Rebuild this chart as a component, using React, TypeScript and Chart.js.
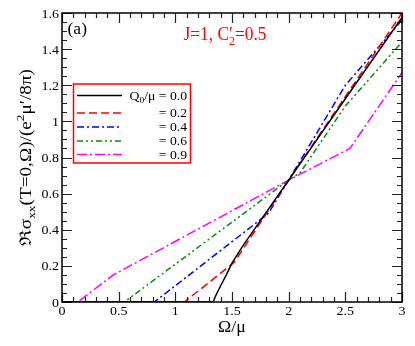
import React, { useEffect, useRef } from "react";
import { Chart, registerables } from "chart.js";

Chart.register(...registerables);

// ---------- data ----------
const blackX = [0, 1.333, 1.36, 1.4, 1.45, 1.5, 1.6, 1.8, 2.0, 2.5, 3.0];
const blackY = [0, 0, 0.04, 0.09, 0.15, 0.215, 0.315, 0.495, 0.675, 1.125, 1.575];
const redX = [0, 1.08, 1.52, 2.0, 3.0];
const redY = [0, 0, 0.22, 0.675, 1.6];
const blueX = [0, 0.815, 1.82, 2.0, 2.5, 3.0];
const blueY = [0, 0, 0.49, 0.675, 1.2, 1.56];
const greenX = [0, 0.55, 2.0, 2.1, 2.5, 3.0];
const greenY = [0, 0, 0.675, 0.715, 1.085, 1.44];
const magentaX = [0, 0.14, 0.45, 2.0, 2.54, 3.0];
const magentaY = [0, 0, 0.149, 0.675, 0.85, 1.27];

const legendValues = ["0.0", "0.2", "0.4", "0.6", "0.9"];
const xTicks = [0, 0.5, 1, 1.5, 2, 2.5, 3];
const xTickLabels = ["0", "0.5", "1", "1.5", "2", "2.5", "3"];
const yTicks = [0, 0.2, 0.4, 0.6, 0.8, 1.0, 1.2, 1.4, 1.6];
const yTickLabels = ["0", "0.2", "0.4", "0.6", "0.8", "1", "1.2", "1.4", "1.6"];
const xMinorStep = 0.1;
const yMinorStep = 0.05;

const FAM = "'Liberation Serif', 'Times New Roman', serif";

type Seg = { t: string; k?: "sub" | "sup"; stack?: boolean };

function segFont(size: number, seg: Seg) {
  const s = seg.k ? size * 0.7 : size;
  return `${s}px ${FAM}`;
}

function richWidth(ctx: CanvasRenderingContext2D, segs: Seg[], size: number) {
  let w = 0;
  for (const s of segs) {
    ctx.font = segFont(size, s);
    if (!s.stack) w += ctx.measureText(s.t).width;
  }
  return w;
}

function drawRich(
  ctx: CanvasRenderingContext2D,
  segs: Seg[],
  x: number,
  y: number,
  size: number,
  align: "left" | "center" | "right",
  sx: number,
  color: string
) {
  ctx.save();
  const total = richWidth(ctx, segs, size) * sx;
  const start = align === "left" ? 0 : align === "center" ? -total / 2 : -total;
  ctx.translate(x + start, y);
  ctx.scale(sx, 1);
  ctx.fillStyle = color;
  ctx.textAlign = "left";
  ctx.textBaseline = "alphabetic";
  let cx = 0;
  for (const s of segs) {
    ctx.font = segFont(size, s);
    const dy = s.k === "sub" ? size * 0.28 : s.k === "sup" ? -size * 0.42 : 0;
    ctx.fillText(s.t, cx, dy);
    if (!s.stack) cx += ctx.measureText(s.t).width;
  }
  ctx.restore();
}

const pts = (xs: number[], ys: number[]) => xs.map((x, i) => ({ x, y: ys[i] }));

const seriesStyles = [
  { color: "#000000", dash: [] as number[] },
  { color: "#ff0000", dash: [8, 4] },
  { color: "#0000ff", dash: [7, 3, 2, 3] },
  { color: "#009000", dash: [6, 3, 2, 3, 2, 3] },
  { color: "#ff00ff", dash: [10, 3, 2, 3] },
];

export default function App() {
  const ref = useRef<HTMLCanvasElement>(null);

  useEffect(() => {
    const canvas = ref.current!;
    const seriesData = [
      pts(blackX, blackY),
      pts(redX, redY),
      pts(blueX, blueY),
      pts(greenX, greenY),
      pts(magentaX, magentaY),
    ];

    const decor = {
      id: "decor",
      afterDatasetsDraw(chart: any) {
        const ctx: CanvasRenderingContext2D = chart.ctx;
        const { left, right, top, bottom } = chart.chartArea;
        const xs = chart.scales.x;
        const ys = chart.scales.y;
        ctx.save();

        // ticks (inward, mirrored)
        ctx.strokeStyle = "#222";
        ctx.lineWidth = 1.2;
        ctx.beginPath();
        const nx = Math.round((xs.max - xs.min) / xMinorStep);
        for (let i = 0; i <= nx; i++) {
          const v = xs.min + i * xMinorStep;
          const px = Math.round(xs.getPixelForValue(v)) + 0.5;
          const major = xTicks.some((t) => Math.abs(t - v) < 1e-6);
          const L = major ? 10 : 5;
          ctx.moveTo(px, bottom);
          ctx.lineTo(px, bottom - L);
          ctx.moveTo(px, top);
          ctx.lineTo(px, top + L);
        }
        const ny = Math.round((ys.max - ys.min) / yMinorStep);
        for (let i = 0; i <= ny; i++) {
          const v = ys.min + i * yMinorStep;
          const py = Math.round(ys.getPixelForValue(v)) + 0.5;
          const major = yTicks.some((t) => Math.abs(t - v) < 1e-6);
          const L = major ? 10 : 5;
          ctx.moveTo(left, py);
          ctx.lineTo(left + L, py);
          ctx.moveTo(right, py);
          ctx.lineTo(right - L, py);
        }
        ctx.stroke();

        // frame
        ctx.strokeStyle = "#000";
        ctx.lineWidth = 1.5;
        ctx.strokeRect(left, top, right - left, bottom - top);

        // tick labels
        const tsz = 13;
        xTicks.forEach((t, i) => {
          const px = xs.getPixelForValue(t);
          drawRich(ctx, [{ t: xTickLabels[i] }], px, bottom + 13, tsz, "center", 1.08, "#000");
        });
        yTicks.forEach((t, i) => {
          const py = ys.getPixelForValue(t);
          drawRich(ctx, [{ t: yTickLabels[i] }], left - 3, py + 4.5, tsz, "right", 1.08, "#000");
        });

        // axis titles
        drawRich(ctx, [{ t: "Ω/μ" }], (left + right) / 2, 332, 17, "center", 1.05, "#000");
        ctx.save();
        ctx.translate(31, (top + bottom) / 2);
        ctx.rotate(-Math.PI / 2);
        const ySegs: Seg[] = [
          { t: "ℜσ" },
          { t: "xx", k: "sub" },
          { t: "(T=0,Ω)/(e" },
          { t: "2", k: "sup" },
          { t: "μ′/8π)" },
        ];
        const yw = richWidth(ctx, ySegs, 16);
        drawRich(ctx, ySegs, 0, 0, 16, "center", 177 / yw, "#000");
        ctx.restore();

        // panel label
        const aSegs: Seg[] = [{ t: "(a)" }];
        const aw = richWidth(ctx, aSegs, 17);
        drawRich(ctx, aSegs, 67.5, 33.5, 17, "left", 19.5 / aw, "#000");

        // title
        const tSegs: Seg[] = [
          { t: "J=1, C" },
          { t: "′", stack: true },
          { t: "2", k: "sub" },
          { t: "=0.5" },
        ];
        const tw = richWidth(ctx, tSegs, 18);
        drawRich(ctx, tSegs, 183.5, 40, 18, "left", 83 / tw, "#ff0000");

        // legend
        const bx0 = 73.5, by0 = 84, bx1 = 190.5, by1 = 163;
        ctx.fillStyle = "#fff";
        ctx.fillRect(bx0, by0, bx1 - bx0, by1 - by0);
        ctx.strokeStyle = "#ff0000";
        ctx.lineWidth = 1.5;
        ctx.strokeRect(bx0, by0, bx1 - bx0, by1 - by0);
        const rows = [95, 112.5, 126.5, 140.5, 154];
        rows.forEach((ry, i) => {
          const st = seriesStyles[i];
          ctx.save();
          ctx.strokeStyle = st.color;
          ctx.lineWidth = 1.5;
          ctx.setLineDash(st.dash);
          ctx.beginPath();
          ctx.moveTo(77, ry + 0.5);
          ctx.lineTo(122, ry + 0.5);
          ctx.stroke();
          ctx.restore();
          const segs: Seg[] =
            i === 0
              ? [{ t: "Q" }, { t: "0", k: "sub" }, { t: "/μ = " + legendValues[i] }]
              : [{ t: "= " + legendValues[i] }];
          drawRich(ctx, segs, 187, ry + 4.5, 12, "right", 1.14, "#000");
        });

        ctx.restore();
      },
    };

    const chart = new Chart(canvas, {
      type: "line",
      data: {
        datasets: seriesData.map((d, i) => ({
          label: "Q0/μ = " + legendValues[i],
          data: d,
          borderColor: seriesStyles[i].color,
          borderDash: seriesStyles[i].dash,
          borderWidth: 1.5,
          pointRadius: 0,
          tension: 0,
          fill: false,
        })),
      },
      options: {
        animation: false,
        responsive: false,
        events: [],
        layout: { padding: { left: 62, right: 13, top: 13, bottom: 44 } },
        plugins: { legend: { display: false }, tooltip: { enabled: false }, title: { display: false } },
        scales: {
          x: { type: "linear", min: 0, max: 3, display: false },
          y: { type: "linear", min: 0, max: 1.6, display: false },
        },
      },
      plugins: [decor],
    });
    return () => chart.destroy();
  }, []);

  return (
    <div style={{ position: "fixed", left: 0, top: 0, width: 415, height: 346, background: "#fff" }}>
      <canvas ref={ref} width={415} height={346} style={{ display: "block" }} />
    </div>
  );
}
